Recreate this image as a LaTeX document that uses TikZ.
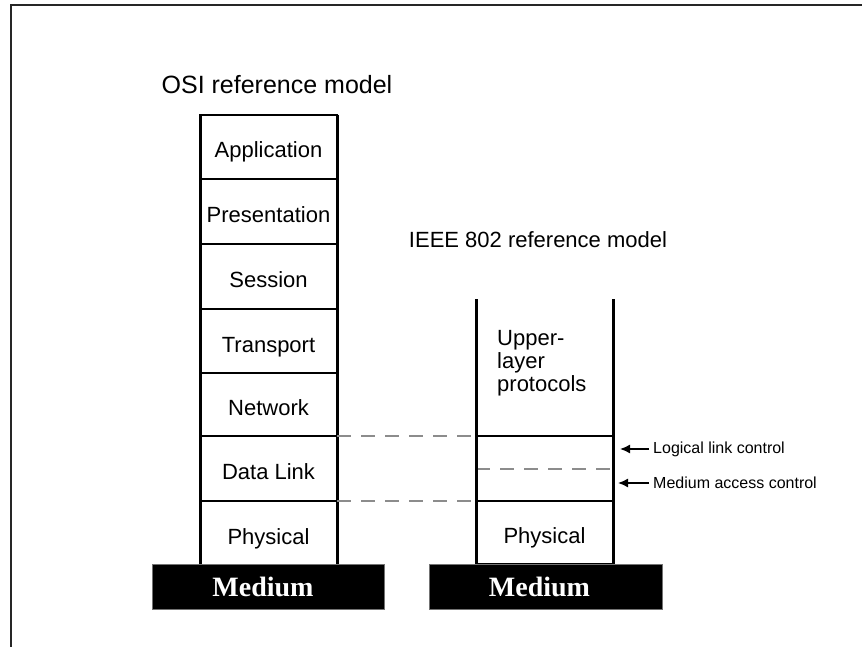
\documentclass[tikz,border=0pt]{standalone}
\usepackage{fontspec}
\setmainfont{Liberation Sans}
\newfontfamily\mediumfont{Liberation Serif}
\usetikzlibrary{arrows.meta}

\begin{document}
\begin{tikzpicture}[x=1pt,y=-1pt,
  frame/.style={line width=2pt, black!85},
  layer/.style={draw, line width=2pt, inner sep=0pt, outer sep=0pt,
    minimum width=137pt, font=\fontsize{22}{26}\selectfont,
    text height=22pt, text depth=0pt},
  slot/.style={inner sep=0pt, outer sep=0pt, minimum width=137pt},
  wall/.style={line width=3pt},
  divider/.style={line width=2.5pt},
  guide/.style={draw=black!45, line width=1.2pt, dash pattern=on 14pt off 10pt},
  medium/.style={fill=black, draw=black!55, line width=0.6pt, text=white,
    inner sep=0pt, outer sep=0pt, minimum height=45pt,
    font=\mediumfont\bfseries\fontsize{28}{30}\selectfont},
  title/.style={inner sep=0pt},
  note/.style={inner sep=4pt, font=\fontsize{16}{18}\selectfont},
  pointer/.style={line width=1.5pt, -{Latex[length=10pt,width=9pt]}}
]
\useasboundingbox (0,0) rectangle (862,647);

% page frame
\draw[frame] (10,5) -- (862,5);
\draw[frame] (11,5) -- (11,647);

% OSI stack
\node[title, font=\fontsize{25}{29}\selectfont] (osititle) at (277,85) {OSI reference model};
\node[layer, minimum height=64pt] (app)   at (268.5,147)   {Application};
\node[layer, minimum height=65pt] (pres)  at (268.5,211.5) {Presentation};
\node[layer, minimum height=65pt] (sess)  at (268.5,276.5) {Session};
\node[layer, minimum height=64pt] (trans) at (268.5,341)   {Transport};
\node[layer, minimum height=63pt] (net)   at (268.5,404.5) {Network};
\node[layer, minimum height=65pt] (dl)    at (268.5,468.5) {Data Link};
\node[layer, minimum height=64pt] (phy)   at (268.5,533)   {Physical};
\draw[wall] (app.north west) -- (phy.south west);
\draw[wall] (app.north east) -- (phy.south east);
\node[medium, minimum width=232pt] (osimed) at (268,587) {Medium\hspace*{10pt}};

% IEEE 802 stack
\node[title, font=\fontsize{22}{26}\selectfont] (ieeetitle) at (538,240) {IEEE 802 reference model};
\coordinate (ieeeTL) at (476,299);
\coordinate (ieeeTR) at (613,299);
\node[inner sep=0pt, anchor=north west, align=left,
  font=\fontsize{22}{23}\selectfont] (upper) at (497,330) {Upper-\\layer\\protocols};
\node[slot, minimum height=33pt] (llc) at (544.5,452.5) {};
\node[slot, minimum height=32pt] (mac) at (544.5,485) {};
\node[layer, minimum height=63pt] (ieeephy) at (544.5,532.5) {Physical};
\draw[divider] (llc.north west) -- (llc.north east);
\draw[guide] (llc.south west) -- (llc.south east);
\draw[wall] (ieeeTL) -- (ieeephy.south west);
\draw[wall] (ieeeTR) -- (ieeephy.south east);
\node[medium, minimum width=233pt] (ieeemed) at (545.5,586.5) {Medium\hspace*{12pt}};

% correspondence between the two models
\draw[guide] (dl.north east) -- (llc.north west);
\draw[guide] (dl.south east) -- (mac.south west);

% sublayer notes
\node[note, anchor=west] (llcnote) at (649,449) {Logical link control};
\node[note, anchor=west] (macnote) at (649,483) {Medium access control};
\coordinate (llctip) at (620,449);
\coordinate (mactip) at (618,483);
\draw[pointer] (llcnote.west) -- (llctip);
\draw[pointer] (macnote.west) -- (mactip);
\end{tikzpicture}
\end{document}
